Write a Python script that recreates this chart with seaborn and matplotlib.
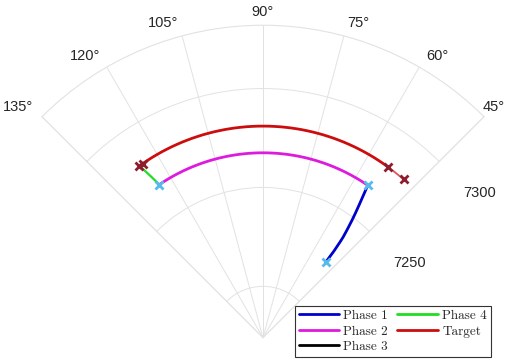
import numpy as np
import matplotlib
matplotlib.use("Agg")
import matplotlib.pyplot as plt
from matplotlib.lines import Line2D
import seaborn as sns

sns.set_style("white")
plt.rcParams["font.family"] = ["Liberation Sans", "DejaVu Sans"]

# axis setup
theta_ticks = [45, 60, 75, 90, 105, 120, 135]
theta_label_ha = ["center", "left", "left", "center", "right", "right", "right"]
r_ticks = [7200, 7250, 7300]
r_tick_labels = ["", "7250", "7300"]  # 7200 sits under the legend
r_min, r_max = 7174, 7332

# trajectory phases (theta in degrees, radius)
phase1_theta = [50.3, 50.7, 51.4, 53.0, 54.6, 55.5]
phase1_r = [7223.6, 7230.6, 7238.5, 7249.5, 7260.2, 7267.5]

phase2_theta = [55.5, 60, 66, 72, 78, 84, 90, 96, 102, 108, 114, 120, 124.1]
phase2_r = [7267.5] * 13

phase4_theta = [124.1, 125.7]
phase4_r = [7267.5, 7281]

target_theta = [53.8, 60, 66, 72, 78, 84, 90, 96, 102, 108, 114, 120, 125.7]
target_r = [7281] * 13
target_tail_theta = [48.4, 53.8]
target_tail_r = [7281, 7281]

target_marks_theta = [48.4, 53.8, 124.7, 125.7]
target_marks_r = [7281, 7281, 7281, 7281]
phase_marks_theta = [50.3, 55.5, 124.1]
phase_marks_r = [7223.6, 7267.5, 7267.5]

c_p1 = "#0000cc"
c_p2 = "#dd1add"
c_p3 = "black"
c_p4 = "#22dd22"
c_tg = "#cc0d0d"


def rad(deg):
    return np.deg2rad(deg)


fig = plt.figure(figsize=(5.13, 3.62), dpi=100)
# square box: the polar axes keeps an equal aspect, the wedge sits in its middle
ax = fig.add_axes([42 / 513, -40.5 / 362, 442 / 513, 442 / 362], projection="polar")
ax.set_thetamin(45)
ax.set_thetamax(135)
ax.set_rlim(r_min, r_max)

ax.set_thetagrids(theta_ticks)
ax.set_rticks(r_ticks)
ax.set_yticklabels(r_tick_labels)
ax.grid(True, color="#e2e2e2", linewidth=0.7)
ax.spines["polar"].set_color("#e2e2e2")
ax.spines["start"].set_color("#e2e2e2")
ax.spines["end"].set_color("#e2e2e2")
ax.spines["inner"].set_visible(False)
ax.tick_params(axis="x", labelsize=10.5, colors="#262626", pad=-1)
ax.tick_params(axis="y", labelsize=10.5, colors="#262626", pad=21)
for tick, ha in zip(ax.xaxis.get_major_ticks(), theta_label_ha):
    tick.label1.set_horizontalalignment(ha)

sns.lineplot(x=rad(np.array(phase1_theta)), y=phase1_r, ax=ax, sort=False,
             estimator=None, color=c_p1, linewidth=2)
sns.lineplot(x=rad(np.array(phase2_theta)), y=phase2_r, ax=ax, sort=False,
             estimator=None, color=c_p2, linewidth=2)
sns.lineplot(x=rad(np.array(phase4_theta)), y=phase4_r, ax=ax, sort=False,
             estimator=None, color=c_p4, linewidth=1.6)
sns.lineplot(x=rad(np.array(target_theta)), y=target_r, ax=ax, sort=False,
             estimator=None, color=c_tg, linewidth=2)
sns.lineplot(x=rad(np.array(target_tail_theta)), y=target_tail_r, ax=ax, sort=False,
             estimator=None, color="#e05555", linewidth=1.3)

# draw constant-radius pieces as true arcs
for ln in ax.get_lines():
    ln.get_path()._interpolation_steps = 50

ax.plot(rad(np.array(target_marks_theta)), target_marks_r, linestyle="none",
        marker="x", markersize=6, markeredgewidth=2, color="#8e1b2e")
ax.plot(rad(np.array(phase_marks_theta)), phase_marks_r, linestyle="none",
        marker="x", markersize=6, markeredgewidth=2, color="#55bbee")

ax.set_xlabel("")
ax.set_ylabel("")

handles = [
    Line2D([], [], color=c_p1, linewidth=2, label="Phase 1"),
    Line2D([], [], color=c_p2, linewidth=2, label="Phase 2"),
    Line2D([], [], color=c_p3, linewidth=2, label="Phase 3"),
    Line2D([], [], color=c_p4, linewidth=2, label="Phase 4"),
    Line2D([], [], color=c_tg, linewidth=2, label="Target"),
]
leg = fig.legend(handles=handles, ncol=2, loc="lower right",
                 bbox_to_anchor=(491 / 513, 5 / 362),
                 prop={"family": "cmr10", "size": 9.5},
                 frameon=True, fancybox=False, framealpha=1,
                 edgecolor="#333333", handlelength=3.1, handletextpad=0.3,
                 columnspacing=0.7, labelspacing=0.25, borderpad=0.3,
                 borderaxespad=0)
leg.get_frame().set_linewidth(0.8)
leg.set_zorder(10)

fig.savefig("out.png", dpi=100)
